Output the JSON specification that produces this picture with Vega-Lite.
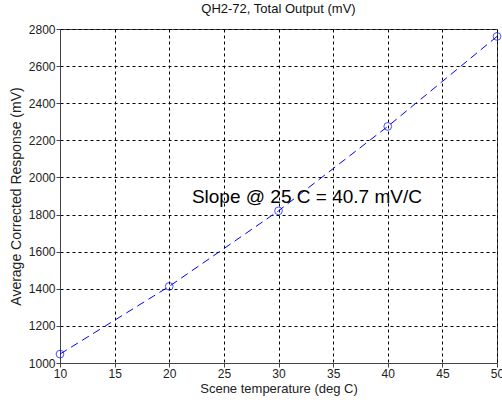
{
  "$schema": "https://vega.github.io/schema/vega-lite/v6.json",
  "width": 437,
  "height": 334,
  "autosize": {"type": "none"},
  "padding": {"left": 60, "top": 29, "right": 5, "bottom": 41},
  "background": "white",
  "title": {"text": "QH2-72, Total Output (mV)", "font": "Liberation Sans", "fontSize": 13, "fontWeight": "normal", "color": "#111", "offset": 7},
  "config": {
    "view": {"stroke": "#444", "strokeWidth": 1},
    "axis": {
      "labelFont": "Liberation Sans", "labelFontSize": 12, "labelColor": "#222",
      "titleFont": "Liberation Sans", "titleFontSize": 13, "titleFontWeight": "normal", "titleColor": "#222",
      "grid": true, "gridColor": "#000", "gridDash": [3, 3], "gridOpacity": 1, "gridWidth": 1,
      "domainColor": "#444", "tickColor": "#444", "tickSize": 4, "labelPadding": 1,
      "labelFlush": false, "format": "d"
    }
  },
  "data": {"values": [
    {"t": 10, "r": 1048},
    {"t": 20, "r": 1413},
    {"t": 30, "r": 1820},
    {"t": 40, "r": 2275},
    {"t": 50, "r": 2760}
  ]},
  "layer": [
    {
      "mark": {"type": "line", "color": "#0000ff", "strokeDash": [8, 5], "strokeWidth": 1},
      "encoding": {
        "x": {"field": "t", "type": "quantitative", "scale": {"domain": [10, 50], "nice": false, "zero": false},
              "axis": {"values": [10, 15, 20, 25, 30, 35, 40, 45, 50], "tickCount": 20, "labelOverlap": false, "title": "Scene temperature (deg C)", "titlePadding": 3}},
        "y": {"field": "r", "type": "quantitative", "scale": {"domain": [1000, 2800], "nice": false, "zero": false},
              "axis": {"values": [1000, 1200, 1400, 1600, 1800, 2000, 2200, 2400, 2600, 2800], "tickCount": 20, "labelOverlap": false, "title": "Average Corrected Response (mV)", "titleFontSize": 14, "titlePadding": 5}}
      }
    },
    {
      "mark": {"type": "point", "shape": "circle", "filled": false, "color": "#0000ff", "size": 60, "strokeWidth": 1},
      "encoding": {
        "x": {"field": "t", "type": "quantitative"},
        "y": {"field": "r", "type": "quantitative"}
      }
    },
    {
      "data": {"values": [{"x": 32.6, "y": 1895, "label": "Slope @ 25 C = 40.7 mV/C"}]},
      "mark": {"type": "text", "font": "Liberation Sans", "fontSize": 19, "color": "#000", "align": "center", "baseline": "middle"},
      "encoding": {
        "x": {"field": "x", "type": "quantitative"},
        "y": {"field": "y", "type": "quantitative"},
        "text": {"field": "label"}
      }
    }
  ]
}
